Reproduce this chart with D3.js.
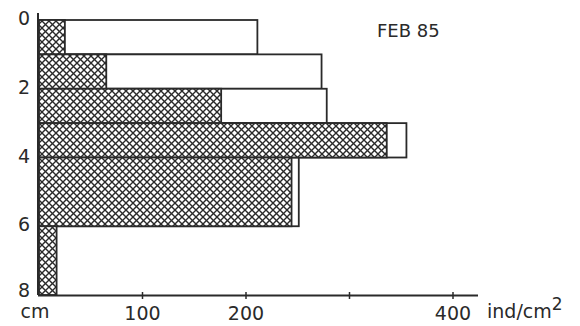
<!DOCTYPE html>
<html>
<head>
<meta charset="utf-8">
<script src="https://cdn.jsdelivr.net/npm/d3@7"></script>
<style>
  body { margin: 0; background: #fff; }
  svg { display: block; }
</style>
</head>
<body>
<svg id="chart" width="580" height="326"></svg>
<script>
/* Depth profile, FEB 85: hatched part + open part of each layer, stacked along x. */
const depthTop    = [0, 1, 2, 3, 4, 6];
const depthBottom = [1, 2, 3, 4, 6, 8];
const hatched     = [25, 65, 176, 336, 244, 17];
const total       = [211, 273, 278, 355, 251, 17];
const xTicks      = [100, 200, 300, 400];
const xTickLabels = ['100', '200', '', '400'];
const yTicks      = [0, 2, 4, 6, 8];

const svg = d3.select('#chart');
const ink = '#2a2a2a';
const font = 'DejaVu Sans, sans-serif';

const x = d3.scaleLinear().domain([0, 400]).range([39, 453]);
const y = d3.scaleLinear().domain([0, 8]).range([20, 295]);

// cross-hatch pattern
const defs = svg.append('defs');
const pat = defs.append('pattern')
  .attr('id', 'xhatch').attr('patternUnits', 'userSpaceOnUse')
  .attr('width', 7).attr('height', 7);
pat.append('rect').attr('width', 7).attr('height', 7).attr('fill', '#fff');
pat.append('path').attr('d', 'M-1,1 L1,-1 M0,7 L7,0 M6,8 L8,6')
  .attr('stroke', ink).attr('stroke-width', 1.4);
pat.append('path').attr('d', 'M-1,6 L1,8 M0,0 L7,7 M6,-1 L8,1')
  .attr('stroke', ink).attr('stroke-width', 1.4);

const layers = depthTop.map((d, i) => ({ top: d, bot: depthBottom[i], h: hatched[i], t: total[i] }));

// open part (full bar outline)
svg.append('g').selectAll('rect').data(layers.filter(d => d.t > d.h)).join('rect')
  .attr('x', x(0)).attr('y', d => y(d.top))
  .attr('width', d => x(d.t) - x(0)).attr('height', d => y(d.bot) - y(d.top))
  .attr('fill', '#fff').attr('stroke', ink).attr('stroke-width', 1.8);

// hatched part
svg.append('g').selectAll('rect').data(layers).join('rect')
  .attr('x', x(0)).attr('y', d => y(d.top))
  .attr('width', d => x(d.h) - x(0)).attr('height', d => y(d.bot) - y(d.top))
  .attr('fill', 'url(#xhatch)').attr('stroke', ink).attr('stroke-width', 1.8);

// y axis
svg.append('line').attr('x1', 38).attr('x2', 38).attr('y1', 13).attr('y2', 295)
  .attr('stroke', ink).attr('stroke-width', 2);
svg.append('g').selectAll('text').data(yTicks).join('text')
  .attr('x', 30).attr('y', d => d === 8 ? y(d) + 2 : y(d) + 5)
  .attr('text-anchor', 'end').attr('font-family', font).attr('font-size', 19)
  .attr('fill', ink).text(d => d);

// x axis
svg.append('line').attr('x1', 38).attr('x2', 478).attr('y1', 295.5).attr('y2', 295.5)
  .attr('stroke', ink).attr('stroke-width', 1.8);
svg.append('g').selectAll('line').data(xTicks).join('line')
  .attr('x1', d => x(d)).attr('x2', d => x(d)).attr('y1', 292).attr('y2', 299)
  .attr('stroke', ink).attr('stroke-width', 1.5);
svg.append('g').selectAll('text').data(xTicks).join('text')
  .attr('x', d => x(d)).attr('y', 320)
  .attr('text-anchor', 'middle').attr('font-family', font).attr('font-size', 19)
  .attr('fill', ink).text((d, i) => xTickLabels[i]);

svg.append('text').attr('x', 35).attr('y', 318).attr('text-anchor', 'middle')
  .attr('font-family', font).attr('font-size', 19).attr('fill', ink).text('cm');

const unit = svg.append('text').attr('x', 487).attr('y', 318)
  .attr('font-family', font).attr('font-size', 19).attr('fill', ink);
unit.append('tspan').text('ind/cm');
unit.append('tspan').attr('dy', -8).attr('font-size', 17).text('2');

svg.append('text').attr('x', 377).attr('y', 37)
  .attr('font-family', font).attr('font-size', 18).attr('fill', ink).text('FEB 85');
</script>
</body>
</html>
